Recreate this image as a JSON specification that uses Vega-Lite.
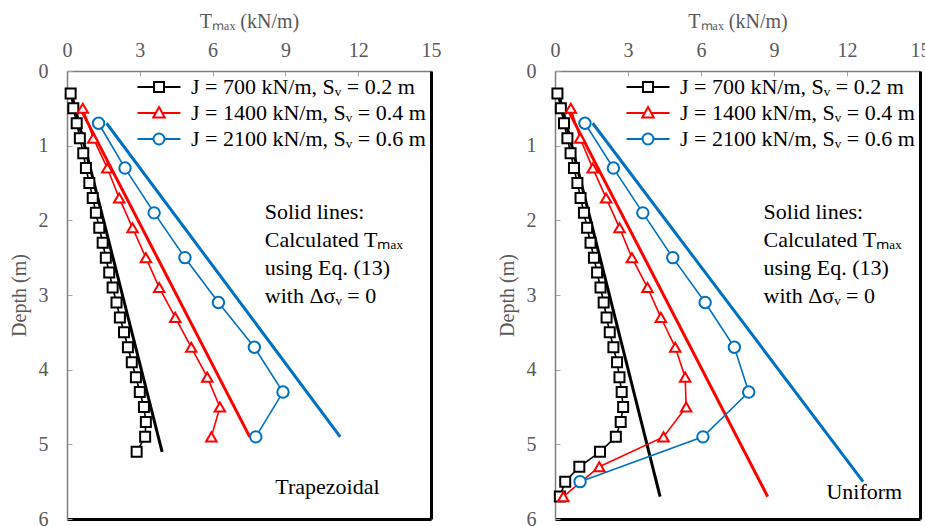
{
  "$schema": "https://vega.github.io/schema/vega-lite/v6.json",
  "padding": {"left": 9, "top": 11, "right": 5, "bottom": 0},
  "background": "#ffffff",
  "config": {
    "view": {"stroke": null},
    "axis": {
      "labelFont": "Liberation Serif", "labelFontSize": 20, "labelColor": "#595959",
      "titleFont": "Liberation Serif", "titleFontSize": 20, "titleColor": "#595959", "titleFontWeight": "normal",
      "grid": false, "tickColor": "#a6a6a6", "tickSize": -5, "tickWidth": 1, "labelOverlap": false, "labelFlush": false, "labelBound": false
    },
    "legend": {"orient": "top-right", "title": null, "offset": 5, "padding": 0, "labelFont": "Liberation Serif", "labelFontSize": 22, "labelColor": "#000000", "symbolSize": 100, "labelOffset": 21, "rowPadding": 4, "labelLimit": 400}
  },
  "data": {"values": [
    {"panel":"Trapezoidal","kind":"meas","series":"J = 700 kN/m, Sᵥ = 0.2 m","depth":0.3,"T":0.15},
    {"panel":"Trapezoidal","kind":"meas","series":"J = 700 kN/m, Sᵥ = 0.2 m","depth":0.5,"T":0.26},
    {"panel":"Trapezoidal","kind":"meas","series":"J = 700 kN/m, Sᵥ = 0.2 m","depth":0.7,"T":0.40},
    {"panel":"Trapezoidal","kind":"meas","series":"J = 700 kN/m, Sᵥ = 0.2 m","depth":0.9,"T":0.53},
    {"panel":"Trapezoidal","kind":"meas","series":"J = 700 kN/m, Sᵥ = 0.2 m","depth":1.1,"T":0.67},
    {"panel":"Trapezoidal","kind":"meas","series":"J = 700 kN/m, Sᵥ = 0.2 m","depth":1.3,"T":0.78},
    {"panel":"Trapezoidal","kind":"meas","series":"J = 700 kN/m, Sᵥ = 0.2 m","depth":1.5,"T":0.92},
    {"panel":"Trapezoidal","kind":"meas","series":"J = 700 kN/m, Sᵥ = 0.2 m","depth":1.7,"T":1.06},
    {"panel":"Trapezoidal","kind":"meas","series":"J = 700 kN/m, Sᵥ = 0.2 m","depth":1.9,"T":1.19},
    {"panel":"Trapezoidal","kind":"meas","series":"J = 700 kN/m, Sᵥ = 0.2 m","depth":2.1,"T":1.33},
    {"panel":"Trapezoidal","kind":"meas","series":"J = 700 kN/m, Sᵥ = 0.2 m","depth":2.3,"T":1.47},
    {"panel":"Trapezoidal","kind":"meas","series":"J = 700 kN/m, Sᵥ = 0.2 m","depth":2.5,"T":1.60},
    {"panel":"Trapezoidal","kind":"meas","series":"J = 700 kN/m, Sᵥ = 0.2 m","depth":2.7,"T":1.74},
    {"panel":"Trapezoidal","kind":"meas","series":"J = 700 kN/m, Sᵥ = 0.2 m","depth":2.9,"T":1.88},
    {"panel":"Trapezoidal","kind":"meas","series":"J = 700 kN/m, Sᵥ = 0.2 m","depth":3.1,"T":2.04},
    {"panel":"Trapezoidal","kind":"meas","series":"J = 700 kN/m, Sᵥ = 0.2 m","depth":3.3,"T":2.18},
    {"panel":"Trapezoidal","kind":"meas","series":"J = 700 kN/m, Sᵥ = 0.2 m","depth":3.5,"T":2.35},
    {"panel":"Trapezoidal","kind":"meas","series":"J = 700 kN/m, Sᵥ = 0.2 m","depth":3.7,"T":2.51},
    {"panel":"Trapezoidal","kind":"meas","series":"J = 700 kN/m, Sᵥ = 0.2 m","depth":3.9,"T":2.67},
    {"panel":"Trapezoidal","kind":"meas","series":"J = 700 kN/m, Sᵥ = 0.2 m","depth":4.1,"T":2.84},
    {"panel":"Trapezoidal","kind":"meas","series":"J = 700 kN/m, Sᵥ = 0.2 m","depth":4.3,"T":3.00},
    {"panel":"Trapezoidal","kind":"meas","series":"J = 700 kN/m, Sᵥ = 0.2 m","depth":4.5,"T":3.17},
    {"panel":"Trapezoidal","kind":"meas","series":"J = 700 kN/m, Sᵥ = 0.2 m","depth":4.7,"T":3.25},
    {"panel":"Trapezoidal","kind":"meas","series":"J = 700 kN/m, Sᵥ = 0.2 m","depth":4.9,"T":3.22},
    {"panel":"Trapezoidal","kind":"meas","series":"J = 700 kN/m, Sᵥ = 0.2 m","depth":5.1,"T":2.87},
    {"panel":"Trapezoidal","kind":"calc","series":"J = 700 kN/m, Sᵥ = 0.2 m","depth":0.3,"T":0.18},
    {"panel":"Trapezoidal","kind":"calc","series":"J = 700 kN/m, Sᵥ = 0.2 m","depth":5.1,"T":3.92},
    {"panel":"Trapezoidal","kind":"meas","series":"J = 1400 kN/m, Sᵥ = 0.4 m","depth":0.5,"T":0.65},
    {"panel":"Trapezoidal","kind":"meas","series":"J = 1400 kN/m, Sᵥ = 0.4 m","depth":0.9,"T":1.08},
    {"panel":"Trapezoidal","kind":"meas","series":"J = 1400 kN/m, Sᵥ = 0.4 m","depth":1.3,"T":1.66},
    {"panel":"Trapezoidal","kind":"meas","series":"J = 1400 kN/m, Sᵥ = 0.4 m","depth":1.7,"T":2.15},
    {"panel":"Trapezoidal","kind":"meas","series":"J = 1400 kN/m, Sᵥ = 0.4 m","depth":2.1,"T":2.70},
    {"panel":"Trapezoidal","kind":"meas","series":"J = 1400 kN/m, Sᵥ = 0.4 m","depth":2.5,"T":3.25},
    {"panel":"Trapezoidal","kind":"meas","series":"J = 1400 kN/m, Sᵥ = 0.4 m","depth":2.9,"T":3.80},
    {"panel":"Trapezoidal","kind":"meas","series":"J = 1400 kN/m, Sᵥ = 0.4 m","depth":3.3,"T":4.46},
    {"panel":"Trapezoidal","kind":"meas","series":"J = 1400 kN/m, Sᵥ = 0.4 m","depth":3.7,"T":5.12},
    {"panel":"Trapezoidal","kind":"meas","series":"J = 1400 kN/m, Sᵥ = 0.4 m","depth":4.1,"T":5.78},
    {"panel":"Trapezoidal","kind":"meas","series":"J = 1400 kN/m, Sᵥ = 0.4 m","depth":4.5,"T":6.30},
    {"panel":"Trapezoidal","kind":"meas","series":"J = 1400 kN/m, Sᵥ = 0.4 m","depth":4.9,"T":5.95},
    {"panel":"Trapezoidal","kind":"calc","series":"J = 1400 kN/m, Sᵥ = 0.4 m","depth":0.5,"T":0.55},
    {"panel":"Trapezoidal","kind":"calc","series":"J = 1400 kN/m, Sᵥ = 0.4 m","depth":4.9,"T":7.53},
    {"panel":"Trapezoidal","kind":"meas","series":"J = 2100 kN/m, Sᵥ = 0.6 m","depth":0.7,"T":1.30},
    {"panel":"Trapezoidal","kind":"meas","series":"J = 2100 kN/m, Sᵥ = 0.6 m","depth":1.3,"T":2.39},
    {"panel":"Trapezoidal","kind":"meas","series":"J = 2100 kN/m, Sᵥ = 0.6 m","depth":1.9,"T":3.59},
    {"panel":"Trapezoidal","kind":"meas","series":"J = 2100 kN/m, Sᵥ = 0.6 m","depth":2.5,"T":4.86},
    {"panel":"Trapezoidal","kind":"meas","series":"J = 2100 kN/m, Sᵥ = 0.6 m","depth":3.1,"T":6.24},
    {"panel":"Trapezoidal","kind":"meas","series":"J = 2100 kN/m, Sᵥ = 0.6 m","depth":3.7,"T":7.72},
    {"panel":"Trapezoidal","kind":"meas","series":"J = 2100 kN/m, Sᵥ = 0.6 m","depth":4.3,"T":8.90},
    {"panel":"Trapezoidal","kind":"meas","series":"J = 2100 kN/m, Sᵥ = 0.6 m","depth":4.9,"T":7.78},
    {"panel":"Trapezoidal","kind":"calc","series":"J = 2100 kN/m, Sᵥ = 0.6 m","depth":0.7,"T":1.63},
    {"panel":"Trapezoidal","kind":"calc","series":"J = 2100 kN/m, Sᵥ = 0.6 m","depth":4.9,"T":11.26},
    {"panel":"Uniform","kind":"meas","series":"J = 700 kN/m, Sᵥ = 0.2 m","depth":0.3,"T":0.10},
    {"panel":"Uniform","kind":"meas","series":"J = 700 kN/m, Sᵥ = 0.2 m","depth":0.5,"T":0.24},
    {"panel":"Uniform","kind":"meas","series":"J = 700 kN/m, Sᵥ = 0.2 m","depth":0.7,"T":0.37},
    {"panel":"Uniform","kind":"meas","series":"J = 700 kN/m, Sᵥ = 0.2 m","depth":0.9,"T":0.51},
    {"panel":"Uniform","kind":"meas","series":"J = 700 kN/m, Sᵥ = 0.2 m","depth":1.1,"T":0.64},
    {"panel":"Uniform","kind":"meas","series":"J = 700 kN/m, Sᵥ = 0.2 m","depth":1.3,"T":0.78},
    {"panel":"Uniform","kind":"meas","series":"J = 700 kN/m, Sᵥ = 0.2 m","depth":1.5,"T":0.92},
    {"panel":"Uniform","kind":"meas","series":"J = 700 kN/m, Sᵥ = 0.2 m","depth":1.7,"T":1.05},
    {"panel":"Uniform","kind":"meas","series":"J = 700 kN/m, Sᵥ = 0.2 m","depth":1.9,"T":1.19},
    {"panel":"Uniform","kind":"meas","series":"J = 700 kN/m, Sᵥ = 0.2 m","depth":2.1,"T":1.32},
    {"panel":"Uniform","kind":"meas","series":"J = 700 kN/m, Sᵥ = 0.2 m","depth":2.3,"T":1.46},
    {"panel":"Uniform","kind":"meas","series":"J = 700 kN/m, Sᵥ = 0.2 m","depth":2.5,"T":1.60},
    {"panel":"Uniform","kind":"meas","series":"J = 700 kN/m, Sᵥ = 0.2 m","depth":2.7,"T":1.73},
    {"panel":"Uniform","kind":"meas","series":"J = 700 kN/m, Sᵥ = 0.2 m","depth":2.9,"T":1.87},
    {"panel":"Uniform","kind":"meas","series":"J = 700 kN/m, Sᵥ = 0.2 m","depth":3.1,"T":2.00},
    {"panel":"Uniform","kind":"meas","series":"J = 700 kN/m, Sᵥ = 0.2 m","depth":3.3,"T":2.12},
    {"panel":"Uniform","kind":"meas","series":"J = 700 kN/m, Sᵥ = 0.2 m","depth":3.5,"T":2.25},
    {"panel":"Uniform","kind":"meas","series":"J = 700 kN/m, Sᵥ = 0.2 m","depth":3.7,"T":2.40},
    {"panel":"Uniform","kind":"meas","series":"J = 700 kN/m, Sᵥ = 0.2 m","depth":3.9,"T":2.55},
    {"panel":"Uniform","kind":"meas","series":"J = 700 kN/m, Sᵥ = 0.2 m","depth":4.1,"T":2.65},
    {"panel":"Uniform","kind":"meas","series":"J = 700 kN/m, Sᵥ = 0.2 m","depth":4.3,"T":2.74},
    {"panel":"Uniform","kind":"meas","series":"J = 700 kN/m, Sᵥ = 0.2 m","depth":4.5,"T":2.80},
    {"panel":"Uniform","kind":"meas","series":"J = 700 kN/m, Sᵥ = 0.2 m","depth":4.7,"T":2.70},
    {"panel":"Uniform","kind":"meas","series":"J = 700 kN/m, Sᵥ = 0.2 m","depth":4.9,"T":2.50},
    {"panel":"Uniform","kind":"meas","series":"J = 700 kN/m, Sᵥ = 0.2 m","depth":5.1,"T":1.85},
    {"panel":"Uniform","kind":"meas","series":"J = 700 kN/m, Sᵥ = 0.2 m","depth":5.3,"T":1.00},
    {"panel":"Uniform","kind":"meas","series":"J = 700 kN/m, Sᵥ = 0.2 m","depth":5.5,"T":0.42},
    {"panel":"Uniform","kind":"meas","series":"J = 700 kN/m, Sᵥ = 0.2 m","depth":5.7,"T":0.20},
    {"panel":"Uniform","kind":"calc","series":"J = 700 kN/m, Sᵥ = 0.2 m","depth":0.3,"T":0.15},
    {"panel":"Uniform","kind":"calc","series":"J = 700 kN/m, Sᵥ = 0.2 m","depth":5.7,"T":4.32},
    {"panel":"Uniform","kind":"meas","series":"J = 1400 kN/m, Sᵥ = 0.4 m","depth":0.5,"T":0.65},
    {"panel":"Uniform","kind":"meas","series":"J = 1400 kN/m, Sᵥ = 0.4 m","depth":0.9,"T":1.03},
    {"panel":"Uniform","kind":"meas","series":"J = 1400 kN/m, Sᵥ = 0.4 m","depth":1.3,"T":1.55},
    {"panel":"Uniform","kind":"meas","series":"J = 1400 kN/m, Sᵥ = 0.4 m","depth":1.7,"T":2.10},
    {"panel":"Uniform","kind":"meas","series":"J = 1400 kN/m, Sᵥ = 0.4 m","depth":2.1,"T":2.65},
    {"panel":"Uniform","kind":"meas","series":"J = 1400 kN/m, Sᵥ = 0.4 m","depth":2.5,"T":3.16},
    {"panel":"Uniform","kind":"meas","series":"J = 1400 kN/m, Sᵥ = 0.4 m","depth":2.9,"T":3.80},
    {"panel":"Uniform","kind":"meas","series":"J = 1400 kN/m, Sᵥ = 0.4 m","depth":3.3,"T":4.35},
    {"panel":"Uniform","kind":"meas","series":"J = 1400 kN/m, Sᵥ = 0.4 m","depth":3.7,"T":4.94},
    {"panel":"Uniform","kind":"meas","series":"J = 1400 kN/m, Sᵥ = 0.4 m","depth":4.1,"T":5.35},
    {"panel":"Uniform","kind":"meas","series":"J = 1400 kN/m, Sᵥ = 0.4 m","depth":4.5,"T":5.39},
    {"panel":"Uniform","kind":"meas","series":"J = 1400 kN/m, Sᵥ = 0.4 m","depth":4.9,"T":4.46},
    {"panel":"Uniform","kind":"meas","series":"J = 1400 kN/m, Sᵥ = 0.4 m","depth":5.3,"T":1.82},
    {"panel":"Uniform","kind":"meas","series":"J = 1400 kN/m, Sᵥ = 0.4 m","depth":5.7,"T":0.34},
    {"panel":"Uniform","kind":"calc","series":"J = 1400 kN/m, Sᵥ = 0.4 m","depth":0.5,"T":0.50},
    {"panel":"Uniform","kind":"calc","series":"J = 1400 kN/m, Sᵥ = 0.4 m","depth":5.7,"T":8.74},
    {"panel":"Uniform","kind":"meas","series":"J = 2100 kN/m, Sᵥ = 0.6 m","depth":0.7,"T":1.23},
    {"panel":"Uniform","kind":"meas","series":"J = 2100 kN/m, Sᵥ = 0.6 m","depth":1.3,"T":2.40},
    {"panel":"Uniform","kind":"meas","series":"J = 2100 kN/m, Sᵥ = 0.6 m","depth":1.9,"T":3.61},
    {"panel":"Uniform","kind":"meas","series":"J = 2100 kN/m, Sᵥ = 0.6 m","depth":2.5,"T":4.84},
    {"panel":"Uniform","kind":"meas","series":"J = 2100 kN/m, Sᵥ = 0.6 m","depth":3.1,"T":6.17},
    {"panel":"Uniform","kind":"meas","series":"J = 2100 kN/m, Sᵥ = 0.6 m","depth":3.7,"T":7.37},
    {"panel":"Uniform","kind":"meas","series":"J = 2100 kN/m, Sᵥ = 0.6 m","depth":4.3,"T":7.96},
    {"panel":"Uniform","kind":"meas","series":"J = 2100 kN/m, Sᵥ = 0.6 m","depth":4.9,"T":6.08},
    {"panel":"Uniform","kind":"meas","series":"J = 2100 kN/m, Sᵥ = 0.6 m","depth":5.5,"T":1.03},
    {"panel":"Uniform","kind":"calc","series":"J = 2100 kN/m, Sᵥ = 0.6 m","depth":0.7,"T":1.55},
    {"panel":"Uniform","kind":"calc","series":"J = 2100 kN/m, Sᵥ = 0.6 m","depth":5.5,"T":12.66}
  ]},
  "spacing": 124,
  "bounds": "flush",
  "resolve": {"scale": {"stroke": "independent", "x": "independent", "y": "independent"}, "legend": {"stroke": "independent"}},
  "hconcat": [
    {
      "width": 364, "height": 448,
      "transform": [{"filter": "datum.panel == 'Trapezoidal'"}],
      "layer": [
        {
          "transform": [{"filter": "datum.kind == 'calc'"}],
          "mark": {"type": "line", "strokeWidth": 3},
          "encoding": {
            "x": {"field": "T", "type": "quantitative", "scale": {"domain": [0, 15], "nice": false},
                  "axis": {"orient": "top", "values": [0, 3, 6, 9, 12, 15], "title": "Tₘₐₓ (kN/m)", "domainColor": "#7f7f7f", "domainWidth": 1.5, "labelPadding": 16, "titlePadding": 9}},
            "y": {"field": "depth", "type": "quantitative", "scale": {"domain": [0, 6], "reverse": true, "nice": false},
                  "axis": {"orient": "left", "values": [0, 1, 2, 3, 4, 5, 6], "title": "Depth (m)", "domainColor": "#7f7f7f", "domainWidth": 1.5, "labelPadding": 24, "titlePadding": 9}},
            "stroke": {"field": "series", "type": "nominal", "scale": {"domain": ["J = 700 kN/m, Sᵥ = 0.2 m", "J = 1400 kN/m, Sᵥ = 0.4 m", "J = 2100 kN/m, Sᵥ = 0.6 m"], "range": ["#000000", "#FF0000", "#0070C0"]},
              "legend": {"encode": {"symbols": {"update": {
                  "shape": {"signal": "['M-4.3,0H-1M1,0H4.3M-1,-1H1V1H-1Z','M-4.3,0H-0.66M0.66,0H4.3M0,-1.2L1.15,0.9H-1.15Z','M-4.3,0H-1.1M1.1,0H4.3M-1.1,0A1.1,1.1 0 1,0 1.1,0A1.1,1.1 0 1,0 -1.1,0Z'][datum.index]"},
                  "fill": {"value": "#ffffff"}, "strokeWidth": {"value": 2}, "opacity": {"value": 1}}}}}},
            "order": {"field": "depth", "type": "quantitative"}
          }
        },
        {
          "transform": [{"filter": "datum.kind == 'meas'"}],
          "mark": {"type": "line", "strokeWidth": 1.6},
          "encoding": {
            "x": {"field": "T", "type": "quantitative", "axis": null},
            "y": {"field": "depth", "type": "quantitative", "axis": null},
            "stroke": {"field": "series", "type": "nominal"},
            "order": {"field": "depth", "type": "quantitative"}
          }
        },
        {
          "transform": [{"filter": "datum.kind == 'meas' && datum.series == 'J = 700 kN/m, Sᵥ = 0.2 m'"}],
          "mark": {"type": "point", "shape": "square", "filled": true, "fill": "#ffffff", "size": 100, "strokeWidth": 2, "opacity": 1},
          "encoding": {
            "x": {"field": "T", "type": "quantitative", "axis": null},
            "y": {"field": "depth", "type": "quantitative", "axis": null},
            "stroke": {"field": "series", "type": "nominal"}
          }
        },
        {
          "transform": [{"filter": "datum.kind == 'meas' && datum.series == 'J = 1400 kN/m, Sᵥ = 0.4 m'"}],
          "mark": {"type": "point", "shape": "triangle-up", "filled": true, "fill": "#ffffff", "size": 110, "strokeWidth": 2, "opacity": 1},
          "encoding": {
            "x": {"field": "T", "type": "quantitative", "axis": null},
            "y": {"field": "depth", "type": "quantitative", "axis": null},
            "stroke": {"field": "series", "type": "nominal"}
          }
        },
        {
          "transform": [{"filter": "datum.kind == 'meas' && datum.series == 'J = 2100 kN/m, Sᵥ = 0.6 m'"}],
          "mark": {"type": "point", "shape": "circle", "filled": true, "fill": "#ffffff", "size": 130, "strokeWidth": 2, "opacity": 1},
          "encoding": {
            "x": {"field": "T", "type": "quantitative", "axis": null},
            "y": {"field": "depth", "type": "quantitative", "axis": null},
            "stroke": {"field": "series", "type": "nominal"}
          }
        },
        {
          "data": {"values": [{}]},
          "mark": {"type": "text", "font": "Liberation Serif", "fontSize": 22, "align": "left", "baseline": "alphabetic", "lineHeight": 28, "color": "#000000"},
          "encoding": {
            "x": {"datum": 8.15, "type": "quantitative", "axis": null},
            "y": {"datum": 1.98, "type": "quantitative", "axis": null},
            "text": {"value": ["Solid lines:", "Calculated Tₘₐₓ", "using Eq. (13)", "with Δσᵥ = 0"]}
          }
        },
        {
          "data": {"values": [{}]},
          "mark": {"type": "text", "font": "Liberation Serif", "fontSize": 22, "align": "right", "baseline": "alphabetic", "color": "#000000"},
          "encoding": {
            "x": {"datum": 12.88, "type": "quantitative", "axis": {"orient": "bottom", "labels": false, "ticks": false, "title": null, "domainColor": "#000000", "domainWidth": 3}},
            "y": {"datum": 5.67, "type": "quantitative", "axis": {"orient": "right", "labels": false, "ticks": false, "title": null, "domainColor": "#000000", "domainWidth": 3}},
            "text": {"value": "Trapezoidal"}
          }
        }
      ]
    },
    {
      "width": 365, "height": 448,
      "transform": [{"filter": "datum.panel == 'Uniform'"}],
      "layer": [
        {
          "transform": [{"filter": "datum.kind == 'calc'"}],
          "mark": {"type": "line", "strokeWidth": 3},
          "encoding": {
            "x": {"field": "T", "type": "quantitative", "scale": {"domain": [0, 15], "nice": false},
                  "axis": {"orient": "top", "values": [0, 3, 6, 9, 12, 15], "title": "Tₘₐₓ (kN/m)", "domainColor": "#7f7f7f", "domainWidth": 1.5, "labelPadding": 16, "titlePadding": 9}},
            "y": {"field": "depth", "type": "quantitative", "scale": {"domain": [0, 6], "reverse": true, "nice": false},
                  "axis": {"orient": "left", "values": [0, 1, 2, 3, 4, 5, 6], "title": "Depth (m)", "domainColor": "#7f7f7f", "domainWidth": 1.5, "labelPadding": 24, "titlePadding": 9}},
            "stroke": {"field": "series", "type": "nominal", "scale": {"domain": ["J = 700 kN/m, Sᵥ = 0.2 m", "J = 1400 kN/m, Sᵥ = 0.4 m", "J = 2100 kN/m, Sᵥ = 0.6 m"], "range": ["#000000", "#FF0000", "#0070C0"]},
              "legend": {"encode": {"symbols": {"update": {
                  "shape": {"signal": "['M-4.3,0H-1M1,0H4.3M-1,-1H1V1H-1Z','M-4.3,0H-0.66M0.66,0H4.3M0,-1.2L1.15,0.9H-1.15Z','M-4.3,0H-1.1M1.1,0H4.3M-1.1,0A1.1,1.1 0 1,0 1.1,0A1.1,1.1 0 1,0 -1.1,0Z'][datum.index]"},
                  "fill": {"value": "#ffffff"}, "strokeWidth": {"value": 2}, "opacity": {"value": 1}}}}}},
            "order": {"field": "depth", "type": "quantitative"}
          }
        },
        {
          "transform": [{"filter": "datum.kind == 'meas'"}],
          "mark": {"type": "line", "strokeWidth": 1.6},
          "encoding": {
            "x": {"field": "T", "type": "quantitative", "axis": null},
            "y": {"field": "depth", "type": "quantitative", "axis": null},
            "stroke": {"field": "series", "type": "nominal"},
            "order": {"field": "depth", "type": "quantitative"}
          }
        },
        {
          "transform": [{"filter": "datum.kind == 'meas' && datum.series == 'J = 700 kN/m, Sᵥ = 0.2 m'"}],
          "mark": {"type": "point", "shape": "square", "filled": true, "fill": "#ffffff", "size": 100, "strokeWidth": 2, "opacity": 1},
          "encoding": {
            "x": {"field": "T", "type": "quantitative", "axis": null},
            "y": {"field": "depth", "type": "quantitative", "axis": null},
            "stroke": {"field": "series", "type": "nominal"}
          }
        },
        {
          "transform": [{"filter": "datum.kind == 'meas' && datum.series == 'J = 1400 kN/m, Sᵥ = 0.4 m'"}],
          "mark": {"type": "point", "shape": "triangle-up", "filled": true, "fill": "#ffffff", "size": 110, "strokeWidth": 2, "opacity": 1},
          "encoding": {
            "x": {"field": "T", "type": "quantitative", "axis": null},
            "y": {"field": "depth", "type": "quantitative", "axis": null},
            "stroke": {"field": "series", "type": "nominal"}
          }
        },
        {
          "transform": [{"filter": "datum.kind == 'meas' && datum.series == 'J = 2100 kN/m, Sᵥ = 0.6 m'"}],
          "mark": {"type": "point", "shape": "circle", "filled": true, "fill": "#ffffff", "size": 130, "strokeWidth": 2, "opacity": 1},
          "encoding": {
            "x": {"field": "T", "type": "quantitative", "axis": null},
            "y": {"field": "depth", "type": "quantitative", "axis": null},
            "stroke": {"field": "series", "type": "nominal"}
          }
        },
        {
          "data": {"values": [{}]},
          "mark": {"type": "text", "font": "Liberation Serif", "fontSize": 22, "align": "left", "baseline": "alphabetic", "lineHeight": 28, "color": "#000000"},
          "encoding": {
            "x": {"datum": 8.57, "type": "quantitative", "axis": null},
            "y": {"datum": 1.98, "type": "quantitative", "axis": null},
            "text": {"value": ["Solid lines:", "Calculated Tₘₐₓ", "using Eq. (13)", "with Δσᵥ = 0"]}
          }
        },
        {
          "data": {"values": [{}]},
          "mark": {"type": "text", "font": "Liberation Serif", "fontSize": 22, "align": "right", "baseline": "alphabetic", "color": "#000000"},
          "encoding": {
            "x": {"datum": 14.27, "type": "quantitative", "axis": {"orient": "bottom", "labels": false, "ticks": false, "title": null, "domainColor": "#000000", "domainWidth": 3}},
            "y": {"datum": 5.73, "type": "quantitative", "axis": {"orient": "right", "labels": false, "ticks": false, "title": null, "domainColor": "#000000", "domainWidth": 3}},
            "text": {"value": "Uniform"}
          }
        }
      ]
    }
  ]
}
